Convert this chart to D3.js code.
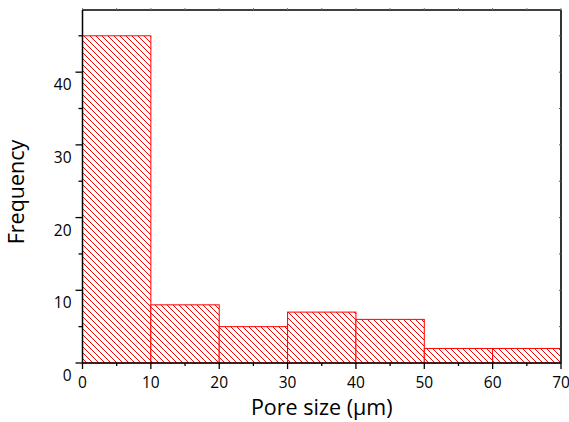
<!DOCTYPE html>
<html><head><meta charset="utf-8">
<script src="https://cdn.jsdelivr.net/npm/d3@7"></script>
<style>body{margin:0;background:#fff}svg{display:block}</style>
</head><body>
<svg id="c" width="569" height="422"></svg>
<script>
const binStarts = [0, 10, 20, 30, 40, 50, 60];
const binWidth = 10;
const frequencies = [45, 8, 5, 7, 6, 2, 2];
const xTickValues = [0, 10, 20, 30, 40, 50, 60, 70];
const yTickValues = [0, 10, 20, 30, 40];
const xTitle = "Pore size (\u03bcm)";
const yTitle = "Frequency";

const svg = d3.select("#c");
const L = 82.5, R = 561, T = 10, B = 363;
const x = d3.scaleLinear().domain([0, 70]).range([L, R]);
const y = d3.scaleLinear().domain([0, 48.55]).range([B, T]);
const font = "'Open Sans', Lato, sans-serif";

const defs = svg.append("defs");
const pat = defs.append("pattern").attr("id", "hatch").attr("patternUnits", "userSpaceOnUse")
  .attr("width", 6).attr("height", 6);
pat.append("rect").attr("width", 6).attr("height", 6).attr("fill", "#fff");
pat.append("path").attr("d", "M0,0 L6,6 M-1,5 L1,7 M5,-1 L7,1")
  .attr("stroke", "#ff0000").attr("stroke-width", 1);

svg.append("g").selectAll("rect").data(binStarts).join("rect")
  .attr("x", d => x(d))
  .attr("y", (d, i) => y(frequencies[i]))
  .attr("width", d => x(d + binWidth) - x(d))
  .attr("height", (d, i) => y(0) - y(frequencies[i]))
  .attr("fill", "url(#hatch)")
  .attr("stroke", "#ff0000").attr("stroke-width", 1);

// frame
svg.append("line").attr("x1", L).attr("x2", R).attr("y1", T).attr("y2", T).attr("stroke", "#000").attr("stroke-width", 1.5);
svg.append("line").attr("x1", R).attr("x2", R).attr("y1", T).attr("y2", B).attr("stroke", "#333").attr("stroke-width", 2);

// bottom axis
const minorX = d3.range(0, 71, 5);
const gx = svg.append("g").attr("transform", `translate(0,${B})`);
gx.selectAll("line.t").data(minorX).join("line")
  .attr("x1", d => x(d)).attr("x2", d => x(d)).attr("y1", 0)
  .attr("y2", d => d % 10 === 0 ? 6 : 3).attr("stroke", "#000").attr("stroke-width", 1.3);
gx.append("line").attr("x1", L).attr("x2", R).attr("stroke", "#000").attr("stroke-width", 1.5);
gx.selectAll("text").data(xTickValues).join("text")
  .attr("x", d => x(d)).attr("y", 25).attr("text-anchor", "middle")
  .attr("font-family", font).attr("font-size", 15.5).attr("fill", "#000").text(d => d);

// top axis small ticks
svg.append("g").selectAll("line").data(minorX).join("line")
  .attr("x1", d => x(d)).attr("x2", d => x(d)).attr("y1", T).attr("y2", T - 2)
  .attr("stroke", "#777").attr("stroke-width", 1);

// left axis
const minorY = d3.range(0, 46, 5);
const gy = svg.append("g").attr("transform", `translate(${L},0)`);
gy.selectAll("line.t").data(minorY).join("line")
  .attr("y1", d => y(d)).attr("y2", d => y(d)).attr("x1", 0)
  .attr("x2", d => d % 10 === 0 ? -7 : -4).attr("stroke", "#000").attr("stroke-width", 1.3);
gy.append("line").attr("y1", T).attr("y2", B).attr("stroke", "#000").attr("stroke-width", 1.5);
gy.selectAll("text").data(yTickValues).join("text")
  .attr("x", -11).attr("y", d => y(d) + 18).attr("text-anchor", "end")
  .attr("font-family", font).attr("font-size", 15.5).attr("fill", "#000").text(d => d);

// right axis inner ticks
svg.append("g").selectAll("line").data(minorY.filter(d => d > 0)).join("line")
  .attr("y1", d => y(d)).attr("y2", d => y(d)).attr("x1", R).attr("x2", R - 2)
  .attr("stroke", "#555").attr("stroke-width", 1);

// titles
svg.append("text").attr("x", (L + R) / 2).attr("y", 415).attr("text-anchor", "middle")
  .attr("font-family", font).attr("font-size", 21.5).attr("fill", "#000").text(xTitle);
svg.append("text").attr("transform", `translate(24,192) rotate(-90)`)
  .attr("text-anchor", "middle").attr("font-family", font).attr("font-size", 21.5)
  .attr("fill", "#000").text(yTitle);
</script>
</body></html>
